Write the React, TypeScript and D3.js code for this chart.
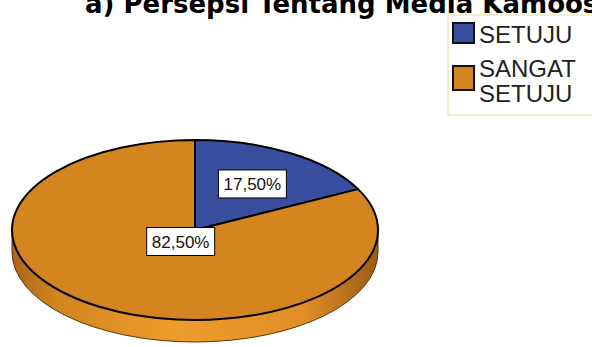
import React from "react";
import * as d3 from "d3";

const categories = ["SETUJU", "SANGAT SETUJU"];
const values = [17.5, 82.5];
const valueLabels = ["17,50%", "82,50%"];
const colors = ["#3a4e9f", "#d4851f"];
const titleText = "a) Persepsi Tentang Media Kamoos";

const W = 592;
const H = 347;
const cx = 195;
const cy = 230;
const rx = 183;
const ry = 90;
const depth = 22;
const labelFrac = [0.6, 0.15];

export default function App() {
  const pie = d3.pie<number>().sort(null).value((d) => d);
  const arcs = pie(values);
  const arc = d3.arc<d3.PieArcDatum<number>>().innerRadius(0).outerRadius(rx);

  const sidePath = `M${cx - rx},${cy} L${cx - rx},${cy + depth} A${rx},${ry} 0 0 0 ${cx + rx},${cy + depth} L${cx + rx},${cy} Z`;
  const sideBottom = `M${cx - rx},${cy} L${cx - rx},${cy + depth} A${rx},${ry} 0 0 0 ${cx + rx},${cy + depth} L${cx + rx},${cy}`;

  const labelPos = arcs.map((a, i) => {
    const mid = (a.startAngle + a.endAngle) / 2;
    return [cx + labelFrac[i] * rx * Math.sin(mid), cy - labelFrac[i] * ry * Math.cos(mid)];
  });

  const [line1, line2] = categories[1].split(" ");

  return (
    <svg width={W} height={H} style={{ position: "absolute", left: 0, top: 0, background: "#fff" }}>
      <defs>
        <linearGradient id="side" x1="0" x2="1" y1="0" y2="0">
          <stop offset="0%" stopColor="#a9641a" />
          <stop offset="12%" stopColor="#d2841f" />
          <stop offset="45%" stopColor="#ee9c2c" />
          <stop offset="80%" stopColor="#df8e26" />
          <stop offset="100%" stopColor="#9c5c16" />
        </linearGradient>
      </defs>
      <text x={85} y={13} fontFamily="'DejaVu Sans', Verdana, sans-serif" fontWeight="bold" fontSize={26} fill="#000">
        {titleText}
      </text>

      {/* legend */}
      <rect x={448} y={15} width={160} height={100} fill="#fff" stroke="#efe9bd" strokeWidth={1.5} />
      <rect x={453} y={23} width={21} height={20} fill={colors[0]} stroke="#111" strokeWidth={2} />
      <rect x={453} y={66} width={21} height={24} fill={colors[1]} stroke="#111" strokeWidth={2} />
      <g fontFamily="'Liberation Sans', Arial, sans-serif" fontSize={24} fill="#222">
        <text x={479} y={43}>{categories[0]}</text>
        <text x={479} y={77}>
          <tspan x={479}>{line1}</tspan>
          <tspan x={479} dy={25}>{line2}</tspan>
        </text>
      </g>

      {/* pie side */}
      <path d={sidePath} fill="url(#side)" />
      <path d={sideBottom} fill="none" stroke="#5a3608" strokeWidth={1} />

      {/* pie top */}
      <g transform={`translate(${cx},${cy}) scale(1,${ry / rx})`}>
        {arcs.map((a, i) => (
          <path
            key={i}
            d={arc(a) || ""}
            fill={colors[i]}
            stroke="#000"
            strokeWidth={2}
            vectorEffect="non-scaling-stroke"
            strokeLinejoin="round"
          />
        ))}
      </g>

      {/* labels */}
      {labelPos.map(([x, y], i) => (
        <g key={i}>
          <rect x={x - 34} y={y - 14} width={68} height={28} fill="#fff" stroke="#000" strokeWidth={1} />
          <text
            x={x}
            y={y + 6}
            textAnchor="middle"
            fontFamily="'Liberation Sans', Arial, sans-serif"
            fontSize={17}
            fill="#111"
          >
            {valueLabels[i]}
          </text>
        </g>
      ))}
    </svg>
  );
}
